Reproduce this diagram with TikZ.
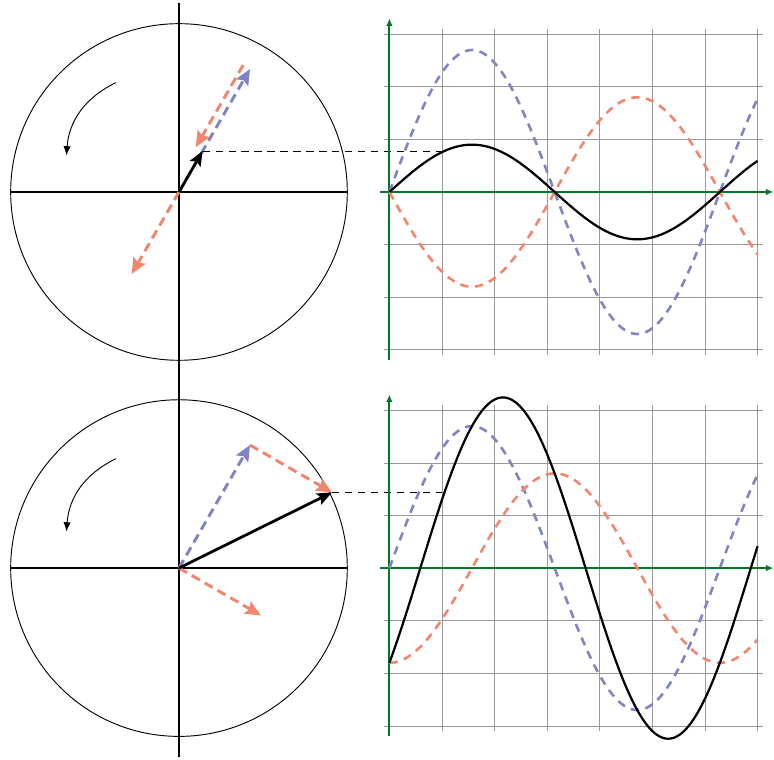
\documentclass[tikz,border=0pt]{standalone}
\usepackage{tikz}
\usepackage{xcolor}
\usetikzlibrary{arrows.meta,calc}
\definecolor{phblue}{RGB}{130,130,200}
\definecolor{phorange}{RGB}{243,133,108}
\definecolor{axgreen}{RGB}{0,120,40}

\begin{document}
\begin{tikzpicture}[x=1cm,y=1cm,>={Stealth[length=8.5pt,width=7.5pt,inset=1.5pt]},
  phasor/.style={-{Stealth[length=8pt,width=6.5pt,inset=1.5pt]},line width=1.5pt},
  dashphasor/.style={->,line width=1.6pt,dash pattern=on 5pt off 3pt},
  wave/.style={line width=1.2pt,domain=0:7,samples=120,smooth},
  dashwave/.style={wave,line width=1.4pt,dash pattern=on 4.5pt off 3.5pt}]
  \useasboundingbox (-3.403,-10.798) rectangle (11.312,3.650);
  \draw[line width=1pt] (0,3.6)--(0,-10.75);
  \foreach \yy/\ph/\off in {0/180/0.15,-7.15/-90/0}{
    \begin{scope}[yshift=\yy cm]
      \draw[line width=0.5pt] (0,0) circle (3.2);
      \draw[line width=1pt] (-3.2,0)--(3.2,0);
      \draw[-{Latex[length=5pt,width=4pt]},line width=0.5pt] (120:2.4) to[bend right=30] (162:2.25);
      \coordinate (O) at (0,0);
      \coordinate (B) at (60:2.7);
      \coordinate (R) at (60+\ph:1.8);
      \coordinate (S) at ($(B)+(R)$);
      \coordinate (G) at ({4+pi/3},{2.7*sin(60)+1.8*sin(60+\ph)});
      \draw[dashphasor,phblue] (O)--(B);
      \draw[dashphasor,phorange] (O)--(R);
      \draw[dashphasor,phorange] ($(B)+(150:\off)$)--($(S)+(150:\off)$);
      \draw[phasor] (O)--(S);
      \draw[dash pattern=on 4pt off 3pt,line width=0.5pt] (S)--(G);
      \begin{scope}[shift={(4,0)}]
        \draw[gray!80,line width=0.4pt] (-0.1,-3.1) grid (7.1,3.1);
        \draw[-{Latex[length=4pt,width=3.5pt]},axgreen,line width=1pt] (-0.17,0)--(7.3,0);
        \draw[-{Latex[length=4pt,width=3.5pt]},axgreen,line width=1pt] (0,-3.2)--(0,3.3);
        \draw[dashwave,phblue] plot (\x,{2.7*sin(\x r)});
        \draw[dashwave,phorange] plot (\x,{1.8*sin(\x r+\ph)});
        \draw[wave] plot (\x,{2.7*sin(\x r)+1.8*sin(\x r+\ph)});
      \end{scope}
    \end{scope}
  }
\end{tikzpicture}
\end{document}
